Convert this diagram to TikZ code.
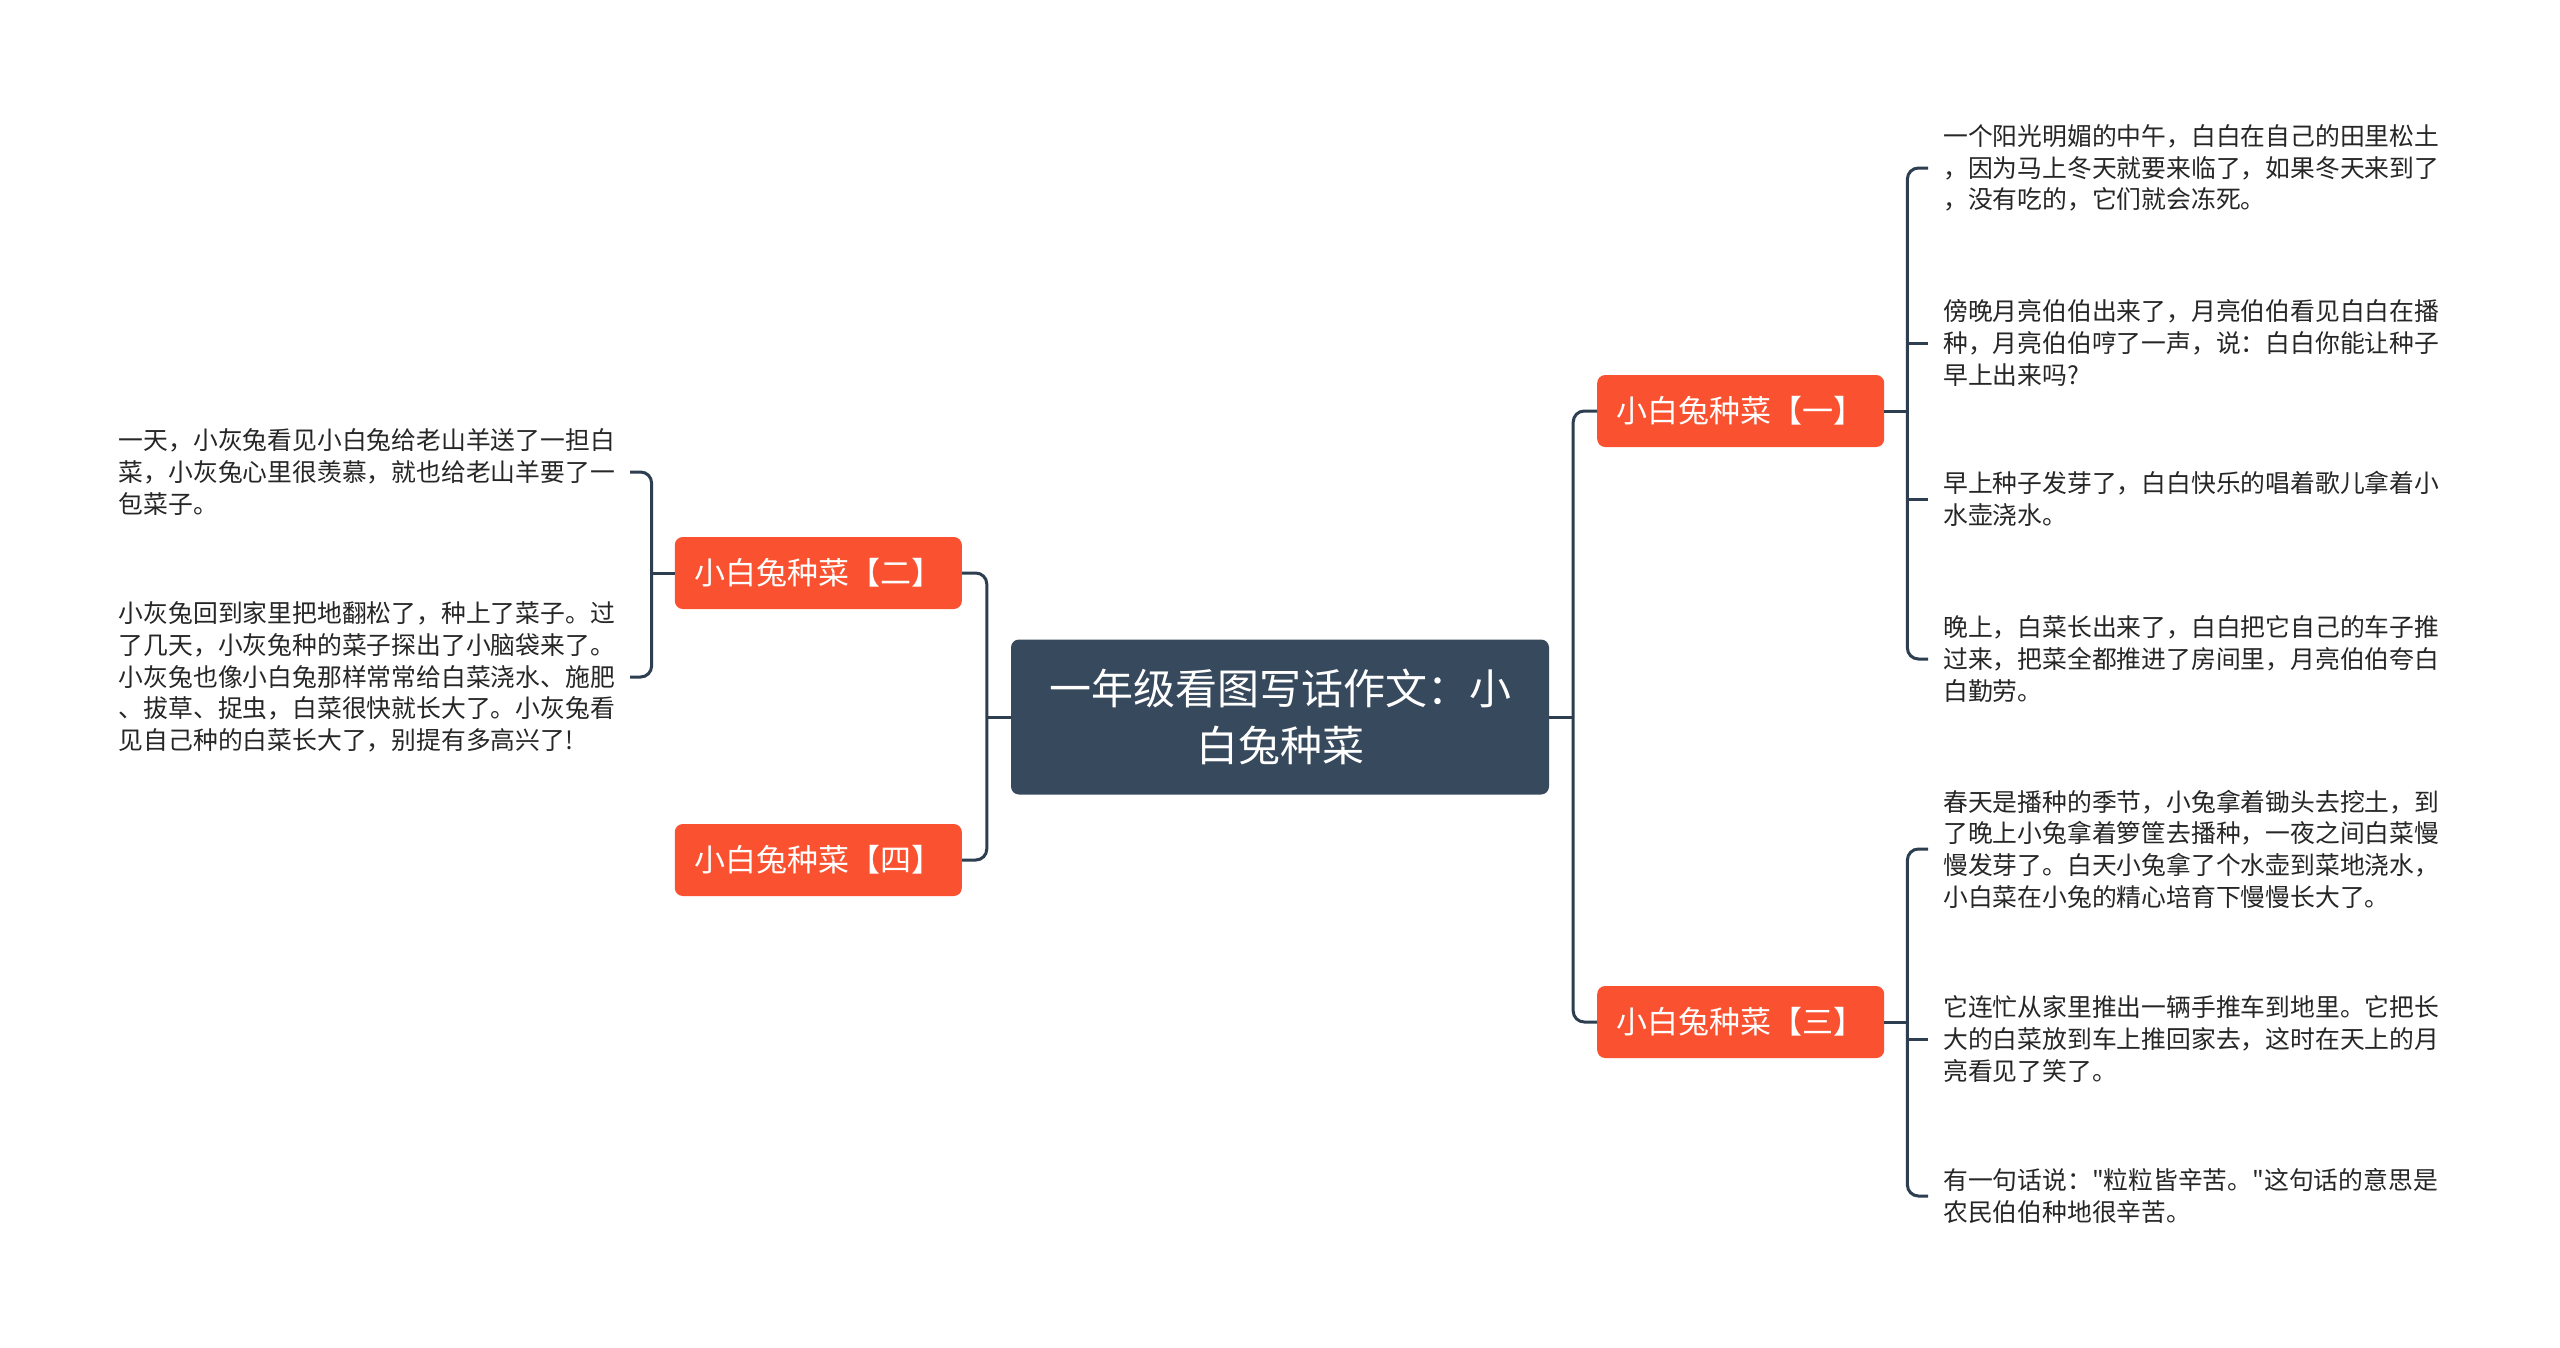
\documentclass[tikz,border=0pt]{standalone}
\usepackage{fontspec}
\newfontfamily\cjk[Ligatures=TeXOff]{Noto Sans CJK SC}
\usetikzlibrary{calc}
\definecolor{Slate}{HTML}{37495C}
\definecolor{Wire}{HTML}{2C3E50}
\definecolor{Coral}{HTML}{FA5130}
\definecolor{Ink}{HTML}{262626}

\begin{document}
\begin{tikzpicture}[x=1pt,y=-1pt,
          root/.style={fill=Slate,rounded corners=8pt,text=white,minimum width=538pt,
            minimum height=155pt,align=center,font=\cjk\fontsize{42}{57}\selectfont},
          branch/.style={fill=Coral,rounded corners=8pt,text=white,minimum width=287pt,
            minimum height=72pt,inner xsep=0pt,font=\cjk\fontsize{31}{37}\selectfont},
          leaf/.style={align=left,text=Ink,inner xsep=15pt,inner ysep=0pt,
            font=\cjk\fontsize{24.8}{31.7}\selectfont},
          link/.style={draw=Wire,line width=3pt,rounded corners=11pt}]
        \fill[white] (0,0) rectangle (2560,1347);
        \useasboundingbox (0,0) rectangle (2560,1347);
        \node[root] (root) at (1280,717) {一年级看图写话作文：小\\白兔种菜};
        \node[branch,anchor=west] (b1) at (1597,411) {小白兔种菜【一】};
        \node[branch,anchor=west] (b3) at (1597,1022) {小白兔种菜【三】};
        \node[branch,anchor=east] (b2) at (962,573) {小白兔种菜【二】};
        \node[branch,anchor=east] (b4) at (962,860) {小白兔种菜【四】};
        % right leaves
        \node[leaf,anchor=west] (r1) at (1928,168)
          {一个阳光明媚的中午，白白在自己的田里松土\\，因为马上冬天就要来临了，如果冬天来到了\\，没有吃的，它们就会冻死。};
        \node[leaf,anchor=west] (r2) at (1928,343)
          {傍晚月亮伯伯出来了，月亮伯伯看见白白在播\\种，月亮伯伯哼了一声，说：白白你能让种子\\早上出来吗?};
        \node[leaf,anchor=west] (r3) at (1928,499)
          {早上种子发芽了，白白快乐的唱着歌儿拿着小\\水壶浇水。};
        \node[leaf,anchor=west] (r4) at (1928,659)
          {晚上，白菜长出来了，白白把它自己的车子推\\过来，把菜全都推进了房间里，月亮伯伯夸白\\白勤劳。};
        \node[leaf,anchor=west] (r5) at (1928,849)
          {春天是播种的季节，小兔拿着锄头去挖土，到\\了晚上小兔拿着箩筐去播种，一夜之间白菜慢\\慢发芽了。白天小兔拿了个水壶到菜地浇水，\\小白菜在小兔的精心培育下慢慢长大了。};
        \node[leaf,anchor=west] (r6) at (1928,1039)
          {它连忙从家里推出一辆手推车到地里。它把长\\大的白菜放到车上推回家去，这时在天上的月\\亮看见了笑了。};
        \node[leaf,anchor=west] (r7) at (1928,1196)
          {有一句话说："粒粒皆辛苦。"这句话的意思是\\农民伯伯种地很辛苦。};
        % left leaves
        \node[leaf,anchor=east] (l1) at (630,472)
          {一天，小灰兔看见小白兔给老山羊送了一担白\\菜，小灰兔心里很羡慕，就也给老山羊要了一\\包菜子。};
        \node[leaf,anchor=east] (l2) at (630,677)
          {小灰兔回到家里把地翻松了，种上了菜子。过\\了几天，小灰兔种的菜子探出了小脑袋来了。\\小灰兔也像小白兔那样常常给白菜浇水、施肥\\、拔草、捉虫，白菜很快就长大了。小灰兔看\\见自己种的白菜长大了，别提有多高兴了!};
        % joints
        \coordinate (jr) at ($(root.east)+(24,0)$);
        \coordinate (jl) at ($(root.west)+(-24,0)$);
        \coordinate (g1) at ($(b1.east)+(23,0)$);
        \coordinate (g3) at ($(b3.east)+(23,0)$);
        \coordinate (g2) at ($(b2.west)+(-23,0)$);
        \draw[link] (root.east) -- (jr);
        \draw[link] (b1.west) -| (jr) |- (b3.west);
        \draw[link] (root.west) -- (jl);
        \draw[link] (b2.east) -| (jl) |- (b4.east);
        \draw[link] (b1.east) -- (g1);
        \draw[link] (r1.west) -| (g1) |- (r4.west);
        \draw[link] (g1 |- r2.west) -- (r2.west);
        \draw[link] (g1 |- r3.west) -- (r3.west);
        \draw[link] (b3.east) -- (g3);
        \draw[link] (r5.west) -| (g3) |- (r7.west);
        \draw[link] (g3 |- r6.west) -- (r6.west);
        \draw[link] (b2.west) -- (g2);
        \draw[link] (l1.east) -| (g2) |- (l2.east);
      \end{tikzpicture}
\end{document}
